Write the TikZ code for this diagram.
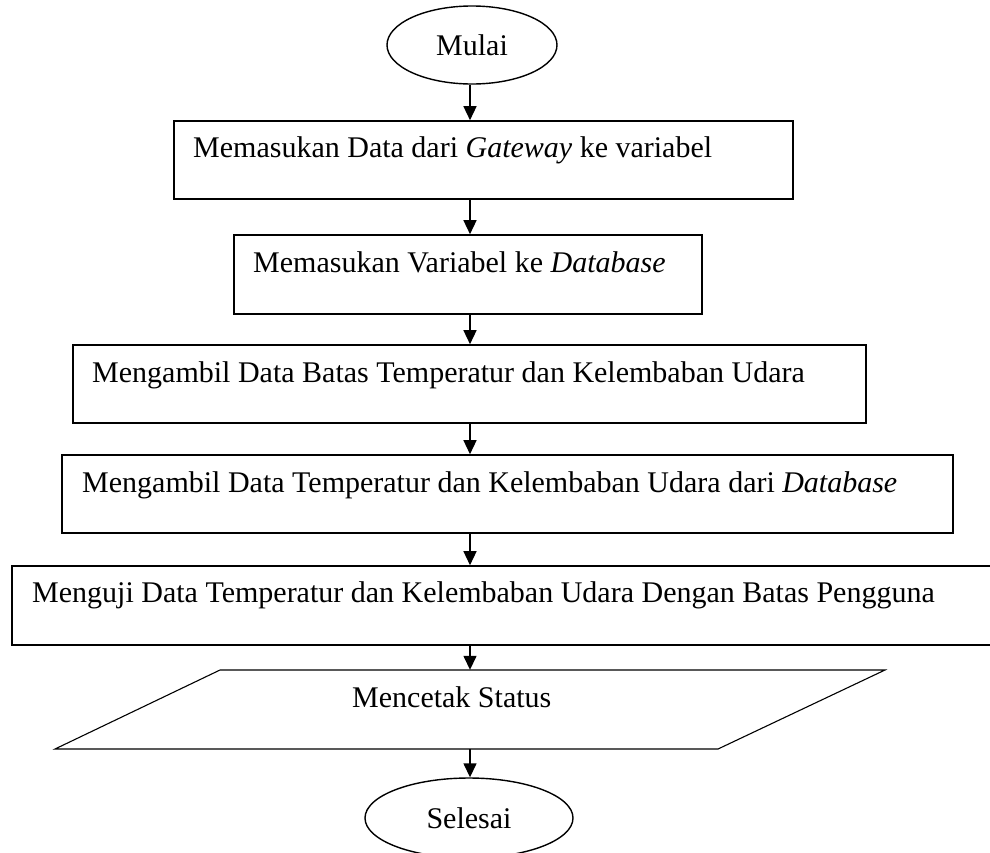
\documentclass[tikz,border=0pt]{standalone}
\usepackage{fontspec}
\setmainfont{Liberation Serif}
\usetikzlibrary{arrows.meta,shapes.geometric}
\begin{document}
\begin{tikzpicture}[x=1pt,y=-1pt,
  every node/.style={font=\fontsize{30}{36}\selectfont},
  procbox/.style={draw, line width=1.6pt, rectangle, inner sep=0pt},
  terminal/.style={draw, line width=1.4pt, ellipse, inner sep=0pt},
  iobox/.style={inner sep=0pt},
  txt/.style={anchor=base west, inner sep=0pt},
  arr/.style={-{Triangle[width=13pt,length=14pt]}, line width=1.4pt}]
\useasboundingbox (0,0) rectangle (990,852);

% vertical line along which all connectors run
\coordinate (spine) at (470,0);

% start / end terminals
\node[terminal, minimum width=170, minimum height=78] (start) at (472,45) {Mulai};
\node[terminal, minimum width=208, minimum height=80] (stop) at (469,818) {Selesai};

% process boxes
\node[procbox, minimum width=619, minimum height=78] (b1) at (483.5,160) {};
\node[procbox, minimum width=468, minimum height=79] (b2) at (468,274.5) {};
\node[procbox, minimum width=793, minimum height=78] (b3) at (469.5,384) {};
\node[procbox, minimum width=891, minimum height=78] (b4) at (507.5,494) {};
\node[procbox, minimum width=1000, minimum height=79] (b5) at (512,605.5) {};

% output (parallelogram)
\node[iobox, minimum width=663, minimum height=79] (io) at (470,709.5) {};
\draw[line width=1.1pt] (220,670) -- (885,670) -- (718,749) -- (55,749) -- cycle;

% box labels
\node[txt] (t1) at (193,157) {Memasukan Data dari \textit{Gateway} ke variabel};
\node[txt] (t2) at (253,272) {Memasukan Variabel ke \textit{Database}};
\node[txt] (t3) at (92,382) {Mengambil Data Batas Temperatur dan Kelembaban Udara};
\node[txt] (t4) at (82,492) {Mengambil Data Temperatur dan Kelembaban Udara dari \textit{Database}};
\node[txt] (t5) at (32,602) {Menguji Data Temperatur dan Kelembaban Udara Dengan Batas Pengguna};
\node[txt] (t6) at (352,707) {Mencetak Status};

% connectors
\draw[arr] (start.south -| spine) -- (b1.north -| spine);
\draw[arr] (b1.south -| spine) -- (b2.north -| spine);
\draw[arr] (b2.south -| spine) -- (b3.north -| spine);
\draw[arr] (b3.south -| spine) -- (b4.north -| spine);
\draw[arr] (b4.south -| spine) -- (b5.north -| spine);
\draw[arr] (b5.south -| spine) -- (io.north -| spine);
\draw[arr] (io.south -| spine) -- (stop.north -| spine);
\end{tikzpicture}
\end{document}
